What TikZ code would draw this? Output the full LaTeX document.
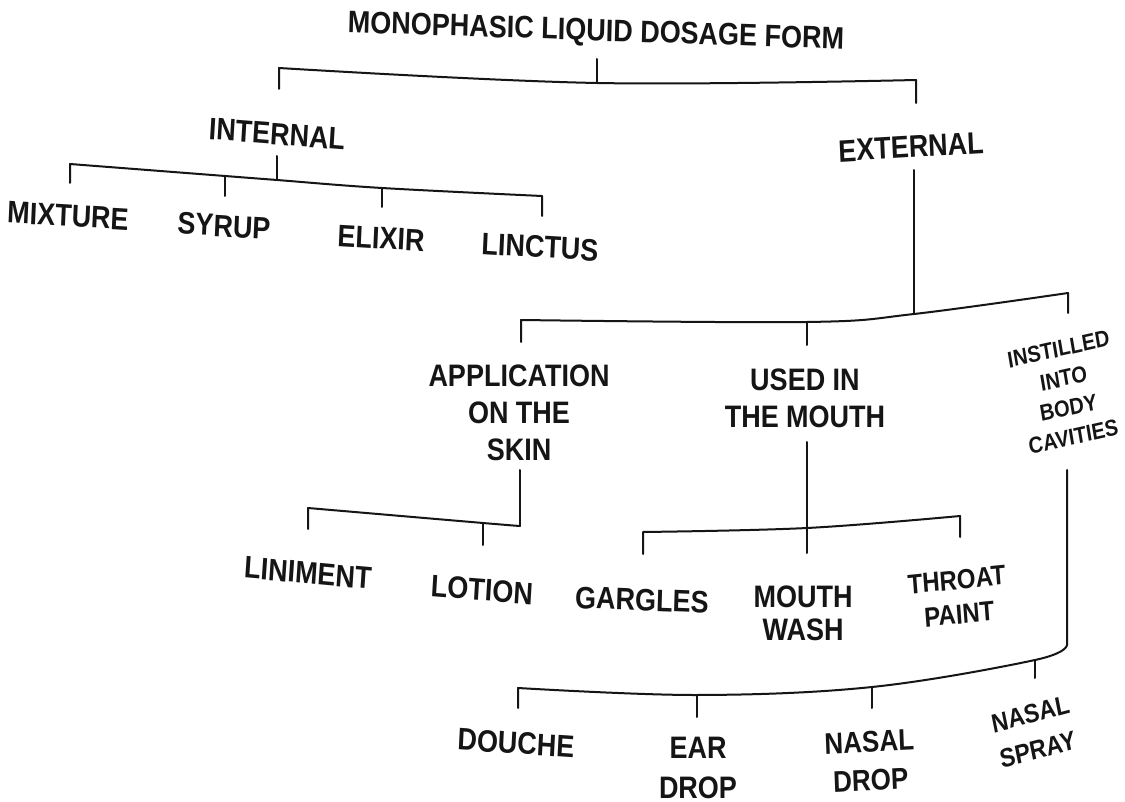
\documentclass[tikz,border=0pt]{standalone}
\usepackage{fontspec}
\setmainfont{Liberation Sans}
\definecolor{ink}{HTML}{151515}
\begin{document}
\begin{tikzpicture}[x=1pt,y=-1pt,
  lbl/.style={font=\bfseries\fontsize{27}{32}\selectfont, align=center, inner sep=0pt, text=ink, yscale=1.15},
  ln/.style={line width=2pt, draw=ink, line cap=round, line join=round},
  sm/.style={smooth, tension=0.6}]
\useasboundingbox[fill=white] (0,0) rectangle (1125,802);

% ---------- labels ----------
\node[lbl, rotate=-1.7] (root) at (596,33) {MONOPHASIC LIQUID DOSAGE FORM};
\node[lbl, rotate=-4] (int) at (277,134) {INTERNAL};
\node[lbl, rotate=3] (ext) at (911,147) {EXTERNAL};
\node[lbl, rotate=-3] (mix) at (68,216) {MIXTURE};
\node[lbl, rotate=-3] (syr) at (224,226) {SYRUP};
\node[lbl, rotate=-3] (eli) at (381,238) {ELIXIR};
\node[lbl, rotate=-3] (lin) at (540,247) {LINCTUS};
\node[lbl] (skin) at (519,413) {APPLICATION\\ON THE\\SKIN};
\node[lbl] (mouth) at (805,398) {USED IN\\THE MOUTH};
\node[lbl, font=\bfseries\fontsize{20}{26}\selectfont, rotate=11] (inst) at (1066,393) {INSTILLED\\INTO\\BODY\\CAVITIES};
\node[lbl, rotate=-4.5] (limt) at (308,573) {LINIMENT};
\node[lbl, rotate=-4] (lotn) at (482,590) {LOTION};
\node[lbl, rotate=-2] (garg) at (642,600) {GARGLES};
\node[lbl, font=\bfseries\fontsize{27}{29}\selectfont] (mwash) at (803,613) {MOUTH\\WASH};
\node[lbl, font=\bfseries\fontsize{24}{30}\selectfont, rotate=5] (throat) at (958,597) {THROAT\\PAINT};
\node[lbl, rotate=-3.4] (douche) at (516,743) {DOUCHE};
\node[lbl, font=\bfseries\fontsize{27}{34}\selectfont] (ear) at (698,768) {EAR\\DROP};
\node[lbl, font=\bfseries\fontsize{26}{33}\selectfont, rotate=2.5] (ndrop) at (870,761) {NASAL\\DROP};
\node[lbl, font=\bfseries\fontsize{23}{32}\selectfont, rotate=13] (nspray) at (1034,732) {NASAL\\SPRAY};

% ---------- top bracket ----------
\coordinate (rootS) at (597,59);
\coordinate (tL) at (279,68);  \coordinate (tLb) at (279,89);
\coordinate (tM) at (597,83);
\coordinate (tR) at (916,80);  \coordinate (tRb) at (916,103);
\draw[ln] (tLb) -- plot[sm] coordinates {(tL) (tM) (tR)} -- (tRb);
\draw[ln] (rootS) -- (tM);

% ---------- internal ----------
\coordinate (intS) at (277,156);
\coordinate (iL) at (70,164);   \coordinate (iLb) at (70,183);
\coordinate (iS) at (225,176);  \coordinate (iSb) at (225,196);
\coordinate (iJ) at (277,180);
\coordinate (iE) at (382,188);  \coordinate (iEb) at (382,207);
\coordinate (iR) at (542,196);  \coordinate (iRb) at (542,216);
\draw[ln] (iLb) -- plot[sm] coordinates {(iL) (iS) (iJ) (iE) (iR)} -- (iRb);
\draw[ln] (intS) -- (iJ);
\draw[ln] (iS) -- (iSb);
\draw[ln] (iE) -- (iEb);

% ---------- external ----------
\coordinate (extS) at (914,170);
\coordinate (eL) at (521,320);  \coordinate (eLb) at (521,342);
\coordinate (eM) at (807,322);  \coordinate (eMb) at (807,345);
\coordinate (eJ) at (914,314);
\coordinate (eR) at (1068,293); \coordinate (eRb) at (1068,313);
\draw[ln] (eLb) -- plot[sm] coordinates {(eL) (eM) (eJ) (eR)} -- (eRb);
\draw[ln] (extS) -- (eJ);
\draw[ln] (eM) -- (eMb);

% ---------- skin ----------
\coordinate (skS) at (520,470);
\coordinate (sJ) at (520,526);
\coordinate (sL) at (308,508);  \coordinate (sLb) at (308,529);
\coordinate (sM) at (483,523);  \coordinate (sMb) at (483,545);
\draw[ln] (skS) -- (sJ);
\draw[ln] (sLb) -- plot[sm] coordinates {(sL) (sM) (sJ)};
\draw[ln] (sM) -- (sMb);

% ---------- mouth ----------
\coordinate (moS) at (807,442);
\coordinate (mJ) at (807,528);  \coordinate (mJb) at (807,553);
\coordinate (mL) at (643,532);  \coordinate (mLb) at (643,554);
\coordinate (mR) at (960,516);  \coordinate (mRb) at (960,537);
\draw[ln] (moS) -- (mJ) -- (mJb);
\draw[ln] (mLb) -- plot[sm] coordinates {(mL) (mJ) (mR)} -- (mRb);

% ---------- instilled ----------
\coordinate (inS) at (1067,470);
\coordinate (nJ) at (1067,645);
\coordinate (nS) at (1035,660); \coordinate (nSb) at (1035,678);
\coordinate (nD) at (872,687);  \coordinate (nDb) at (872,708);
\coordinate (nE) at (697,695);  \coordinate (nEb) at (697,717);
\coordinate (nL) at (518,688);  \coordinate (nLb) at (518,708);
\draw[ln] (inS) -- plot[sm] coordinates {(nJ) (nS) (nD) (nE) (nL)} -- (nLb);
\draw[ln] (nS) -- (nSb);
\draw[ln] (nD) -- (nDb);
\draw[ln] (nE) -- (nEb);
\end{tikzpicture}
\end{document}
